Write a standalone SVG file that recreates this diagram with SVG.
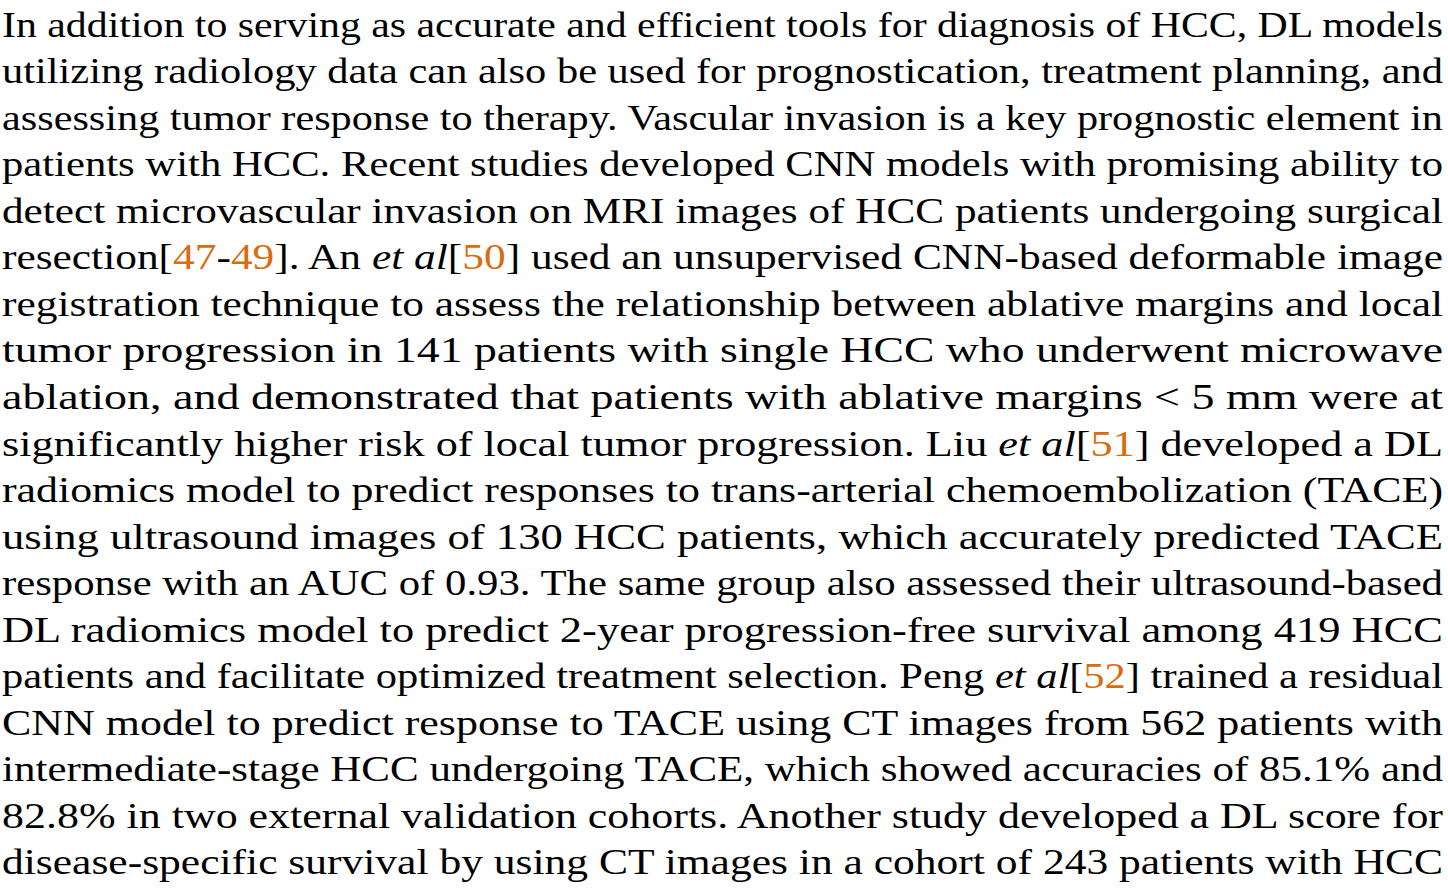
<svg xmlns="http://www.w3.org/2000/svg" width="1448" height="890" viewBox="0 0 1448 890">
<style>
text{font-family:"Liberation Serif","DejaVu Serif",serif;font-size:36px;fill:#000}
.r{fill:#D96C0F}
.i{font-style:italic}
</style>
<rect width="1448" height="890" fill="#fff"/>
<g id="paragraph" lengthAdjust="spacingAndGlyphs">
<text x="2" y="36.5" textLength="1441" lengthAdjust="spacingAndGlyphs">In addition to serving as accurate and efficient tools for diagnosis of HCC, DL models</text>
<text x="2" y="83" textLength="1441" lengthAdjust="spacingAndGlyphs">utilizing radiology data can also be used for prognostication, treatment planning, and</text>
<text x="2" y="129.6" textLength="1441" lengthAdjust="spacingAndGlyphs">assessing tumor response to therapy. Vascular invasion is a key prognostic element in</text>
<text x="2" y="176.2" textLength="1441" lengthAdjust="spacingAndGlyphs">patients with HCC. Recent studies developed CNN models with promising ability to</text>
<text x="2" y="222.7" textLength="1441" lengthAdjust="spacingAndGlyphs">detect microvascular invasion on MRI images of HCC patients undergoing surgical</text>
<text x="2" y="269.3" textLength="1441" lengthAdjust="spacingAndGlyphs">resection[<tspan class="r">47</tspan>-<tspan class="r">49</tspan>]. An <tspan class="i">et al</tspan>[<tspan class="r">50</tspan>] used an unsupervised CNN-based deformable image</text>
<text x="2" y="315.8" textLength="1441" lengthAdjust="spacingAndGlyphs">registration technique to assess the relationship between ablative margins and local</text>
<text x="2" y="362.4" textLength="1441" lengthAdjust="spacingAndGlyphs">tumor progression in 141 patients with single HCC who underwent microwave</text>
<text x="2" y="408.9" textLength="1441" lengthAdjust="spacingAndGlyphs">ablation, and demonstrated that patients with ablative margins &lt; 5 mm were at</text>
<text x="2" y="455.5" textLength="1441" lengthAdjust="spacingAndGlyphs">significantly higher risk of local tumor progression. Liu <tspan class="i">et al</tspan>[<tspan class="r">51</tspan>] developed a DL</text>
<text x="2" y="502" textLength="1441" lengthAdjust="spacingAndGlyphs">radiomics model to predict responses to trans-arterial chemoembolization (TACE)</text>
<text x="2" y="548.6" textLength="1441" lengthAdjust="spacingAndGlyphs">using ultrasound images of 130 HCC patients, which accurately predicted TACE</text>
<text x="2" y="595.1" textLength="1441" lengthAdjust="spacingAndGlyphs">response with an AUC of 0.93. The same group also assessed their ultrasound-based</text>
<text x="2" y="641.7" textLength="1441" lengthAdjust="spacingAndGlyphs">DL radiomics model to predict 2-year progression-free survival among 419 HCC</text>
<text x="2" y="688.2" textLength="1441" lengthAdjust="spacingAndGlyphs">patients and facilitate optimized treatment selection. Peng <tspan class="i">et al</tspan>[<tspan class="r">52</tspan>] trained a residual</text>
<text x="2" y="734.8" textLength="1441" lengthAdjust="spacingAndGlyphs">CNN model to predict response to TACE using CT images from 562 patients with</text>
<text x="2" y="781.3" textLength="1441" lengthAdjust="spacingAndGlyphs">intermediate-stage HCC undergoing TACE, which showed accuracies of 85.1% and</text>
<text x="2" y="827.9" textLength="1441" lengthAdjust="spacingAndGlyphs">82.8% in two external validation cohorts. Another study developed a DL score for</text>
<text x="2" y="874.4" textLength="1441" lengthAdjust="spacingAndGlyphs">disease-specific survival by using CT images in a cohort of 243 patients with HCC</text>
</g>
</svg>
